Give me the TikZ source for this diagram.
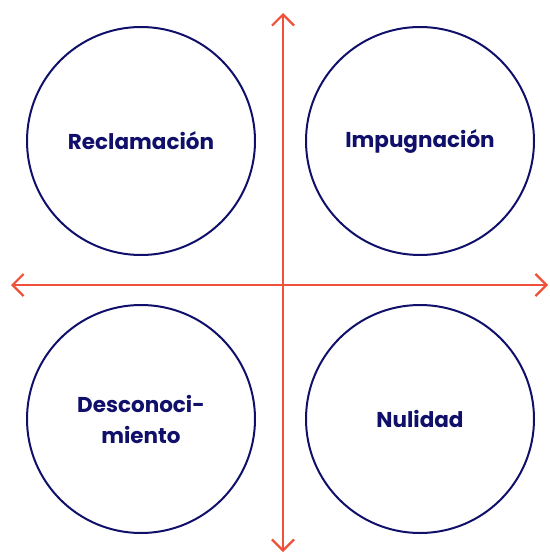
\documentclass[tikz,border=0pt]{standalone}
\usepackage{fontspec}
\setmainfont{Poppins}[UprightFont=* SemiBold,BoldFont=* Bold]
\usetikzlibrary{arrows.meta}
\definecolor{navy}{HTML}{10106B}
\definecolor{redorange}{HTML}{F0513A}
\tikzset{
  quadrant/.style={circle,draw=navy,line width=2pt,minimum size=228pt,inner sep=0pt,
    text=navy,font=\fontsize{21.5}{31}\selectfont\bfseries,align=center},
  axis/.style={draw=redorange,line width=2.2pt,
    {Straight Barb[length=11pt,width=22pt,line width=2.2pt]}-{Straight Barb[length=11pt,width=22pt,line width=2.2pt]}}
}
\begin{document}
\begin{tikzpicture}[x=1pt,y=-1pt]
\useasboundingbox (0,0) rectangle (549,553);
\node[quadrant] (recl) at (141,141) {Reclamación};
\node[quadrant] (impu) at (420,141) {Impugnación\vphantom{R}};
\node[quadrant] (desc) at (141,419) {Desconoci-\\miento};
\node[quadrant] (nuli) at (420,419) {Nulidad};

\coordinate (top) at (283,13);
\coordinate (bottom) at (283,552);
\coordinate (left) at (11,285);
\coordinate (right) at (548,285);
\draw[axis] (top) -- (bottom);
\draw[axis] (left) -- (right);
\end{tikzpicture}
\end{document}
